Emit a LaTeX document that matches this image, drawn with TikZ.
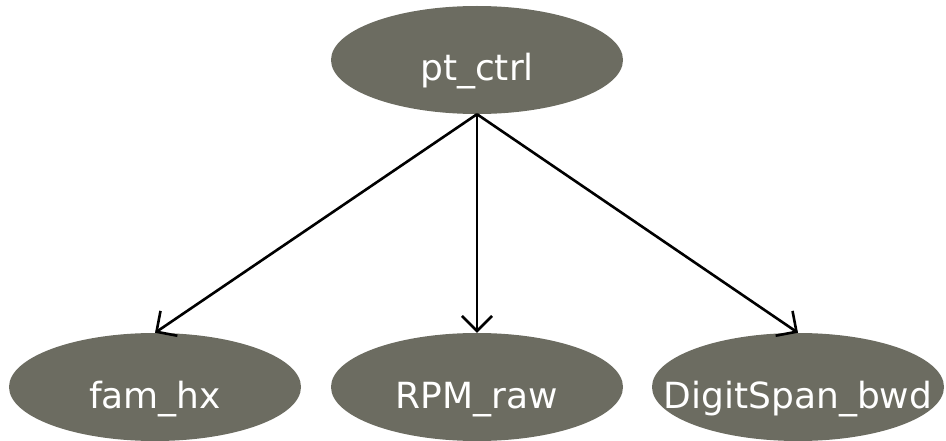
\documentclass[tikz,border=0pt]{standalone}
\usepackage{fontspec}
\setmainfont{DejaVu Sans}
\usetikzlibrary{shapes.geometric,arrows.meta}
\definecolor{nodegrey}{RGB}{108,108,97}
\begin{document}
\begin{tikzpicture}[x=1pt,y=-1pt,
  varnode/.style={ellipse,fill=nodegrey,draw=none,text=white,inner sep=0pt,
    minimum width=292pt,minimum height=108pt,text height=42pt,text depth=0pt,
    font=\fontsize{36}{40}\selectfont},
  edge/.style={draw=black,line width=2.6pt,-{Straight Barb[length=15pt,width=30pt,line width=2.6pt]}}]
\useasboundingbox (0,0) rectangle (946,441);
\node[varnode] (pt) at (477,60) {pt\_ctrl};
\node[varnode] (fam) at (155,387) {fam\_hx};
\node[varnode] (rpm) at (477,387) {RPM\_raw};
\node[varnode] (ds) at (798,387) {\makebox[0pt]{DigitSpan\_bwd}};
\draw[edge] (pt.south) -- (fam.north);
\draw[edge] (pt.south) -- (rpm.north);
\draw[edge] (pt.south) -- (ds.north);
\end{tikzpicture}
\end{document}
